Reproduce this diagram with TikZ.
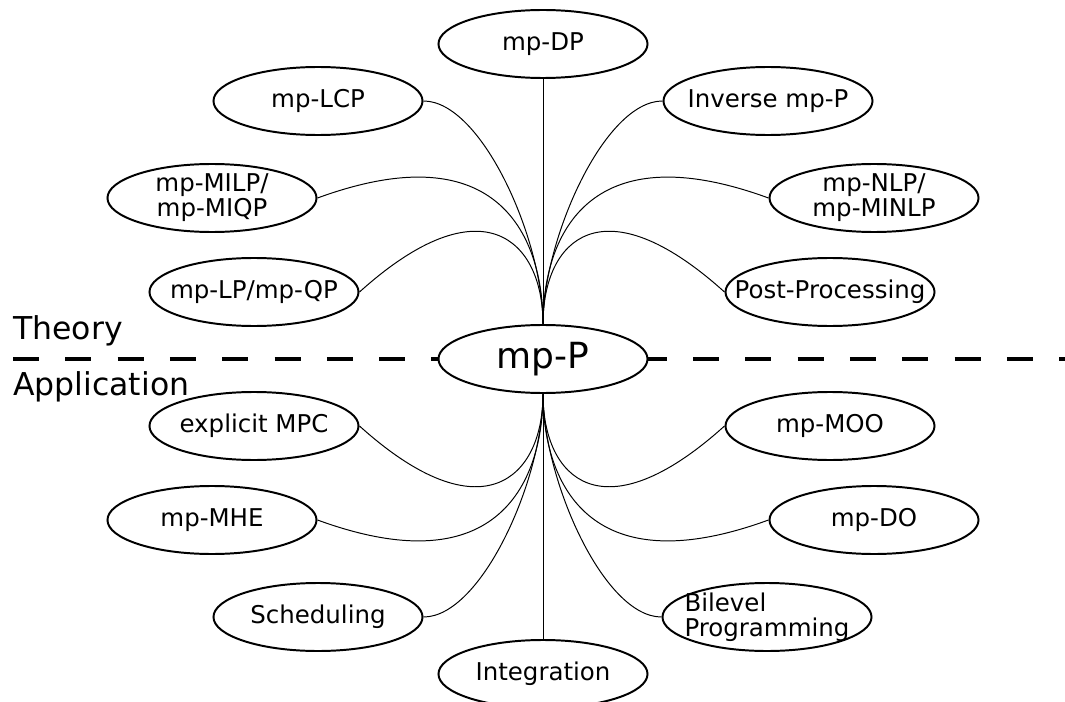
\documentclass[tikz,border=0pt]{standalone}
\usepackage{fontspec}
\setmainfont{DejaVu Sans}
\usetikzlibrary{shapes.geometric}
\begin{document}
\begin{tikzpicture}[x=0.025cm, y=-0.025cm,
  bubble/.style={ellipse, draw, line width=1.4pt, fill=white,
    minimum width=5.225cm, minimum height=1.7cm,
    inner xsep=-80pt, inner ysep=-30pt, align=center,
    font=\fontsize{17.4}{17.8}\selectfont},
  hub/.style={bubble, font=\fontsize{25.6}{28}\selectfont},
  link/.style={line width=0.7pt},
  divider/.style={line width=3.2pt, dash pattern=on 18.5pt off 18.7pt},
  side/.style={anchor=base west, inner sep=0pt, font=\fontsize{22.4}{26}\selectfont}]
\useasboundingbox (0,0) rectangle (1065,702);

% Theory / application divider
\coordinate (divL) at (13,359);
\coordinate (divR) at (1065,359);
\draw[divider] (divL) -- (divR);
\node[side] (theory) at (13,339) {Theory};
\node[side] (appl) at (13,395) {Application};

% central problem class
\node[hub] (P) at (543,359) {mp-P};

% theory branch
\node[bubble] (DP)   at (543,44)  {mp-DP};
\node[bubble] (LCP)  at (318,101) {mp-LCP};
\node[bubble] (INV)  at (768,101) {Inverse mp-P};
\node[bubble] (MILP) at (212,198) {mp-MILP/\\mp-MIQP};
\node[bubble] (NLP)  at (874,198) {mp-NLP/\\mp-MINLP};
\node[bubble] (LP)   at (254,292) {mp-LP/mp-QP};
\node[bubble] (POST) at (830,292) {Post-Processing};

% application branch
\node[bubble] (MPC)  at (254,426) {explicit MPC};
\node[bubble] (MOO)  at (830,426) {mp-MOO};
\node[bubble] (MHE)  at (212,520) {mp-MHE};
\node[bubble] (DO)   at (874,520) {mp-DO};
\node[bubble] (SCH)  at (318,617) {Scheduling};
\node[bubble, align=left] (BIL) at (767,617) {Bilevel\\Programming};
\node[bubble] (INT)  at (543,674) {Integration};

% links to the theory branch
\draw[link] (DP.south) -- (P.north);
\draw[link] (P.north) .. controls +(0,-85) and +(58,0) .. (LCP.east);
\draw[link] (P.north) .. controls +(0,-85) and +(-58,0) .. (INV.west);
\draw[link] (P.north) .. controls +(0,-85) and +(183,-67) .. (MILP.east);
\draw[link] (P.north) .. controls +(0,-85) and +(-183,-67) .. (NLP.west);
\draw[link] (P.north) .. controls +(0,-85) and +(122,-110) .. (LP.east);
\draw[link] (P.north) .. controls +(0,-85) and +(-122,-110) .. (POST.west);

% links to the application branch
\draw[link] (P.south) -- (INT.north);
\draw[link] (P.south) .. controls +(0,85) and +(58,0) .. (SCH.east);
\draw[link] (P.south) .. controls +(0,85) and +(-58,0) .. (BIL.west);
\draw[link] (P.south) .. controls +(0,85) and +(183,67) .. (MHE.east);
\draw[link] (P.south) .. controls +(0,85) and +(-183,67) .. (DO.west);
\draw[link] (P.south) .. controls +(0,85) and +(122,110) .. (MPC.east);
\draw[link] (P.south) .. controls +(0,85) and +(-122,110) .. (MOO.west);
\end{tikzpicture}
\end{document}
